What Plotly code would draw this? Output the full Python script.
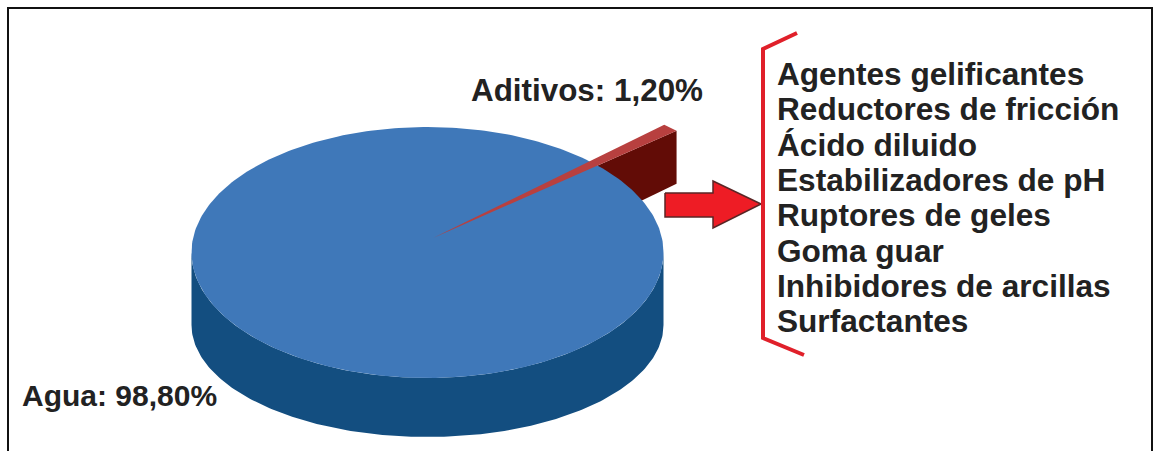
import numpy as np
import plotly.graph_objects as go

# --- data ---
categories = ["Agua", "Aditivos"]
shares = [98.80, 1.20]
share_labels = ["Agua: 98,80%", "Aditivos: 1,20%"]
additives = ["Agentes gelificantes", "Reductores de fricción", "Ácido diluido",
             "Estabilizadores de pH", "Ruptores de geles", "Goma guar",
             "Inhibidores de arcillas", "Surfactantes"]

W, H = 1155, 451
CX, RX = 427.5, 236
TOP_CY, TOP_RY = 252.5, 125.5
BASE_CY, BASE_RY = 325, 112
APEX_X, APEX_Y, SLICE_RY = 433, 238, 111.5
EXPLODE, SLICE_DEPTH, SLICE_START, FORESHORTEN = 1.411, 53, 43.0, 0.7
TXT = "#222222"
FONT = "Liberation Sans, Arial, sans-serif"

fig = go.Figure()


def poly(x, y, color, name, line_color=None, line_width=0):
    fig.add_trace(go.Scatter(
        x=list(x), y=list(y), mode="lines", fill="toself", fillcolor=color, name=name,
        line=dict(color=line_color or color, width=line_width), hoverinfo="skip", showlegend=False))


# wall of the large slice
t = np.radians(np.linspace(180, 360, 181))
poly(np.r_[CX + RX * np.cos(t), (CX + RX * np.cos(t))[::-1]],
     np.r_[TOP_CY - TOP_RY * np.sin(t), (BASE_CY - BASE_RY * np.sin(t))[::-1]],
     "#134e80", "Agua lateral")

# exploded small slice: sweep is taken from its share of the circle
sweep = shares[1] * 3.6 * FORESHORTEN
t1, t2 = np.radians(SLICE_START), np.radians(SLICE_START + sweep)
rim1 = (APEX_X + EXPLODE * RX * np.cos(t1), APEX_Y - EXPLODE * SLICE_RY * np.sin(t1))
rim2 = (APEX_X + EXPLODE * RX * np.cos(t2), APEX_Y - EXPLODE * SLICE_RY * np.sin(t2))
poly([APEX_X, rim1[0], rim1[0], APEX_X],
     [APEX_Y, rim1[1], rim1[1] + SLICE_DEPTH, APEX_Y + 1.2 * SLICE_DEPTH],
     "#620c06", "Aditivos lateral")

# top of the large slice
t = np.radians(np.linspace(0, 360, 361))
poly(CX + RX * np.cos(t), TOP_CY - TOP_RY * np.sin(t), "#3f78b9", categories[0])

# top of the small slice
poly([APEX_X, rim1[0], rim2[0]], [APEX_Y, rim1[1], rim2[1]], "#b8403f", categories[1])

# arrow and bracket
poly([665, 713, 713, 761, 713, 713, 665, 665],
     [193, 193, 181, 204, 228, 217, 217, 193],
     "#ee1c25", "Flecha", "#5a2626", 1.5)
fig.add_trace(go.Scatter(x=[797, 763, 763, 804], y=[33, 49, 338, 355], mode="lines",
                         line=dict(color="#e0202a", width=4), hoverinfo="skip", showlegend=False))

# frame, open at the bottom because the picture crops it
fig.add_trace(go.Scatter(x=[8, 8, 1152, 1152], y=[H, 8, 8, H], mode="lines",
                         line=dict(color="#111111", width=2), hoverinfo="skip", showlegend=False))

annotations = [
    dict(x=22, y=395, text=share_labels[0], font=dict(family=FONT, size=30, color=TXT, weight="bold")),
    dict(x=471, y=90, text=share_labels[1], font=dict(family=FONT, size=31.4, color=TXT, weight="bold")),
]
line_y = [74, 109, 145, 180, 215, 251, 286, 321]
for label, y in zip(additives, line_y):
    annotations.append(dict(x=777, y=y, text=label,
                            font=dict(family=FONT, size=31.6, color=TXT, weight="bold")))
for a in annotations:
    a.update(xref="x", yref="y", xanchor="left", yanchor="middle", showarrow=False, xshift=-2)

fig.update_layout(
    width=W, height=H, margin=dict(l=0, r=0, t=0, b=0), autosize=False,
    paper_bgcolor="white", plot_bgcolor="white", showlegend=False,
    annotations=annotations,
    xaxis=dict(range=[0, W], visible=False, fixedrange=True),
    yaxis=dict(range=[H, 0], visible=False, fixedrange=True),
)
fig.write_html("out.html", config={"displayModeBar": False},
               post_script="document.body.style.margin='0';document.body.style.overflow='hidden';")
